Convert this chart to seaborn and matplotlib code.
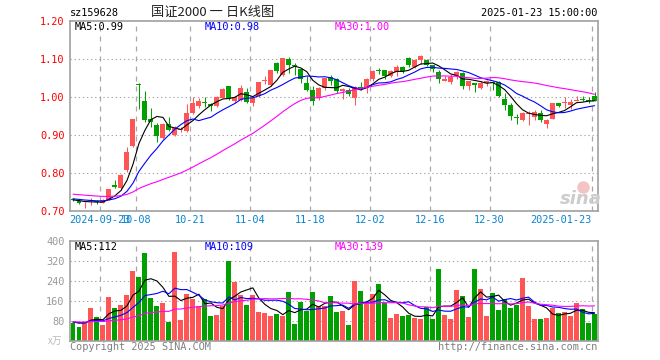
import numpy as np
import pandas as pd
import matplotlib
matplotlib.use("Agg")
import matplotlib.pyplot as plt
import seaborn as sns
from matplotlib.transforms import IdentityTransform

# daily K-line data, 2024-09-12 .. 2025-01-23 (88 trading days)
open_ = [0.733, 0.728, 0.718, 0.726, 0.726, 0.723, 0.730, 0.770, 0.761, 0.809,
         0.872, 1.036, 0.991, 0.943, 0.927, 0.893, 0.929, 0.901, 0.915, 0.912,
         0.958, 0.976, 0.988, 0.982, 0.977, 0.999, 1.030, 0.990, 0.994, 1.015,
         0.984, 1.003, 1.042, 1.032, 1.090, 1.058, 1.101, 1.086, 1.074, 1.038,
         1.020, 0.997, 1.024, 1.053, 1.047, 1.016, 1.018, 0.998, 1.026, 1.024,
         1.048, 1.071, 1.071, 1.056, 1.067, 1.080, 1.103, 1.081, 1.099, 1.097,
         1.084, 1.067, 1.044, 1.039, 1.055, 1.064, 1.029, 1.037, 1.025, 1.037,
         1.040, 1.040, 0.996, 0.981, 0.947, 0.939, 0.955, 0.947, 0.958, 0.930,
         0.944, 0.984, 0.984, 0.979, 0.991, 0.996, 0.993, 1.003]
high = [0.735, 0.732, 0.725, 0.734, 0.730, 0.732, 0.760, 0.782, 0.797, 0.868,
        0.944, 1.037, 1.016, 0.971, 0.932, 0.932, 0.949, 0.925, 0.922, 0.982,
        1.000, 0.998, 1.000, 0.985, 1.004, 1.024, 1.031, 1.004, 1.033, 1.025,
        1.000, 1.041, 1.055, 1.073, 1.092, 1.104, 1.106, 1.090, 1.076, 1.055,
        1.029, 1.026, 1.052, 1.058, 1.051, 1.025, 1.024, 1.029, 1.040, 1.050,
        1.072, 1.077, 1.073, 1.073, 1.085, 1.082, 1.106, 1.100, 1.111, 1.100,
        1.085, 1.071, 1.055, 1.061, 1.068, 1.066, 1.043, 1.038, 1.043, 1.046,
        1.043, 1.042, 1.011, 0.985, 0.955, 0.961, 0.965, 0.967, 0.967, 0.942,
        0.985, 0.986, 1.000, 0.995, 1.004, 1.004, 1.000, 1.014]
low = [0.727, 0.718, 0.708, 0.717, 0.719, 0.721, 0.729, 0.761, 0.757, 0.804,
       0.868, 0.970, 0.936, 0.921, 0.883, 0.890, 0.912, 0.899, 0.910, 0.910,
       0.956, 0.972, 0.974, 0.963, 0.975, 0.997, 0.994, 0.986, 0.991, 0.984,
       0.978, 1.000, 1.035, 1.030, 1.064, 1.056, 1.064, 1.058, 1.038, 1.016,
       0.981, 0.992, 1.020, 1.032, 1.011, 0.996, 1.004, 0.979, 1.020, 1.011,
       1.043, 1.062, 1.049, 1.053, 1.056, 1.064, 1.080, 1.078, 1.088, 1.082,
       1.066, 1.038, 1.043, 1.035, 1.047, 1.023, 1.020, 1.014, 1.022, 1.029,
       1.020, 1.000, 0.966, 0.941, 0.930, 0.938, 0.926, 0.941, 0.935, 0.918,
       0.942, 0.975, 0.972, 0.970, 0.990, 0.989, 0.985, 0.989]
close = [0.729, 0.722, 0.719, 0.727, 0.724, 0.730, 0.758, 0.765, 0.796, 0.856,
         0.942, 1.033, 0.939, 0.936, 0.898, 0.930, 0.914, 0.918, 0.917, 0.958,
         0.986, 0.990, 0.986, 0.978, 1.002, 1.022, 0.996, 1.002, 1.025, 0.988,
         0.998, 1.040, 1.045, 1.071, 1.069, 1.103, 1.085, 1.082, 1.047, 1.020,
         0.990, 1.024, 1.050, 1.044, 1.017, 1.023, 1.008, 1.026, 1.023, 1.048,
         1.070, 1.069, 1.055, 1.068, 1.080, 1.068, 1.084, 1.098, 1.108, 1.086,
         1.075, 1.047, 1.047, 1.053, 1.066, 1.029, 1.042, 1.032, 1.038, 1.044,
         1.038, 1.003, 0.979, 0.950, 0.945, 0.959, 0.959, 0.961, 0.939, 0.939,
         0.985, 0.977, 0.986, 0.988, 0.993, 0.992, 0.990, 0.991]
volume = [72, 56, 75, 131, 95, 63, 175, 131, 143, 183,
          279, 255, 351, 171, 139, 151, 75, 355, 83, 187,
          167, 138, 165, 97, 101, 140, 317, 235, 181, 143,
          181, 113, 109, 97, 105, 97, 195, 67, 155, 117,
          195, 140, 140, 180, 116, 120, 64, 240, 200, 153,
          188, 228, 149, 89, 108, 100, 104, 89, 85, 133,
          85, 285, 104, 85, 204, 180, 96, 288, 208, 100,
          192, 124, 165, 129, 144, 252, 140, 88, 85, 92,
          129, 112, 116, 100, 152, 128, 72, 107]

# rough estimate of the days before the window, only used to warm up the moving averages
pre_close = [0.762, 0.760, 0.758, 0.761, 0.757, 0.755, 0.752, 0.754, 0.756, 0.753,
             0.750, 0.748, 0.751, 0.749, 0.746, 0.744, 0.745, 0.742, 0.740, 0.741,
             0.738, 0.736, 0.737, 0.735, 0.733, 0.731, 0.732, 0.730, 0.728]
pre_volume = [82, 78, 85, 74, 70, 88, 76, 72, 80, 69, 75, 83, 71, 77, 68,
              74, 79, 73, 70, 81, 76, 72, 69, 78, 74, 80, 71, 75, 77]

date_idx = [5, 11, 20, 30, 40, 50, 60, 70, 87]
date_labels = ["2024-09-23", "10-08", "10-21", "11-04", "11-18",
               "12-02", "12-16", "12-30", "2025-01-23"]
price_ticks = [0.70, 0.80, 0.90, 1.00, 1.10, 1.20]
vol_ticks = [80, 160, 240, 320, 400]
price_ma_text = ["MA5:0.99", "MA10:0.98", "MA30:1.00"]
vol_ma_text = ["MA5:112", "MA10:109", "MA30:139"]

RED = "#ff5555"
GREEN = "#00a000"
ma_colors = ["black", "#0000ff", "#ff00ff"]

sns.set_style("white")
plt.rcParams["font.family"] = ["DejaVu Sans Mono"]

n = len(close)
df = pd.DataFrame({"x": np.arange(n), "open": open_, "high": high,
                   "low": low, "close": close, "volume": volume})
df["color"] = np.where(df["close"] >= df["open"], RED, GREEN)

full_c = pd.Series(pre_close + close)
full_v = pd.Series(pre_volume + volume)
for w in (5, 10, 30):
    df[f"ma{w}"] = full_c.rolling(w).mean().iloc[-n:].to_numpy()
    df[f"vma{w}"] = full_v.rolling(w).mean().iloc[-n:].to_numpy()

W, H = 660, 360
fig = plt.figure(figsize=(6.6, 3.6), dpi=100)
ax = fig.add_axes([70 / W, 1 - 211.3 / H, 527.5 / W, 190 / H])
axv = fig.add_axes([70 / W, 1 - 340.7 / H, 527.5 / W, 100 / H])

# candles
body_lo = np.minimum(df["open"], df["close"])
body_h = np.maximum((df["close"] - df["open"]).abs(), 0.0025)
ax.vlines(df["x"], df["low"], df["high"], colors=df["color"], lw=0.75, zorder=2)
ax.bar(df["x"], body_h, bottom=body_lo, width=0.83, color=df["color"],
       linewidth=0, zorder=2)
for w, c in zip((5, 10, 30), ma_colors):
    sns.lineplot(x=df["x"], y=df[f"ma{w}"], color=c, linewidth=0.8, ax=ax, zorder=3)

# volume
axv.bar(df["x"], df["volume"], width=0.83, color=df["color"], linewidth=0, zorder=2)
for w, c in zip((5, 10, 30), ma_colors):
    sns.lineplot(x=df["x"], y=df[f"vma{w}"], color=c, linewidth=0.8, ax=axv, zorder=3)

grid_x = [i - 0.5 for i in date_idx]
for a in (ax, axv):
    a.set_xlim(-0.5, n - 0.5)
    a.set_xlabel("")
    a.set_ylabel("")
    for s in a.spines.values():
        s.set_color("#a0a0a0")
        s.set_linewidth(1.2)
    for gx in grid_x:
        a.axvline(gx, color="#a8a8a8", lw=0.9, ls=(0, (4, 4)), zorder=1)

ax.set_ylim(0.70, 1.20)
ax.set_yticks(price_ticks, [f"{v:.2f}" for v in price_ticks])
ax.tick_params(axis="y", length=0, pad=4, labelcolor="red", labelsize=7.4)
for v in price_ticks[1:-1]:
    ax.axhline(v, color="#a8a8a8", lw=0.8, ls=(0, (1.2, 2.5)), zorder=1)
ax.set_xticks(grid_x, date_labels)
ax.tick_params(axis="x", length=0, pad=3, labelcolor="#0a84d0", labelsize=7.4)
ax.get_xticklabels()[-1].set_ha("right")

axv.set_ylim(0, 400)
axv.set_yticks(vol_ticks, [str(v) for v in vol_ticks])
axv.tick_params(axis="y", length=0, pad=4, labelcolor="#999999", labelsize=7.4)
for v in vol_ticks[:-1]:
    axv.axhline(v, color="#a8a8a8", lw=0.8, ls=(0, (1.2, 2.5)), zorder=1)
axv.set_xticks([])


def ftext(x, y, s, **kw):
    fig.text(x / W, 1 - y / H, s, va="center", **kw)


ftext(70, 13, "sz159628", fontsize=7.4, color="black")
ftext(213, 12, "国证2000 一 日K线图", fontsize=9.5, ha="center", color="#222222",
      family=["Noto Sans CJK SC", "DejaVu Sans"])
ftext(597, 13, "2025-01-23 15:00:00", fontsize=7.4, ha="right", color="black")

for xp, s, c in zip((75, 205, 335), price_ma_text, ma_colors):
    ftext(xp, 27, s, fontsize=7.4, color=c)
for xp, s, c in zip((75, 205, 335), vol_ma_text, ma_colors):
    ftext(xp, 247, s, fontsize=7.4, color=c)

ftext(48, 341, "x万", fontsize=7, color="#bbbbbb", family=["Noto Sans CJK SC", "DejaVu Sans"])
ftext(70, 347, "Copyright 2025 SINA.COM", fontsize=7.4, color="#808080")
ftext(597, 347, "http://finance.sina.com.cn", fontsize=7.4, ha="right", color="#808080")

# sina watermark
ax.plot([583], [H - 187], marker="o", ms=8, mfc="#f4c4c4", mec="#f4c4c4",
        transform=IdentityTransform(), zorder=1, clip_on=False)
ftext(581, 199, "sina", fontsize=13, ha="center", color="#cccccc",
      weight="bold", style="italic", family=["DejaVu Sans"])

fig.savefig("out.png", dpi=100)
